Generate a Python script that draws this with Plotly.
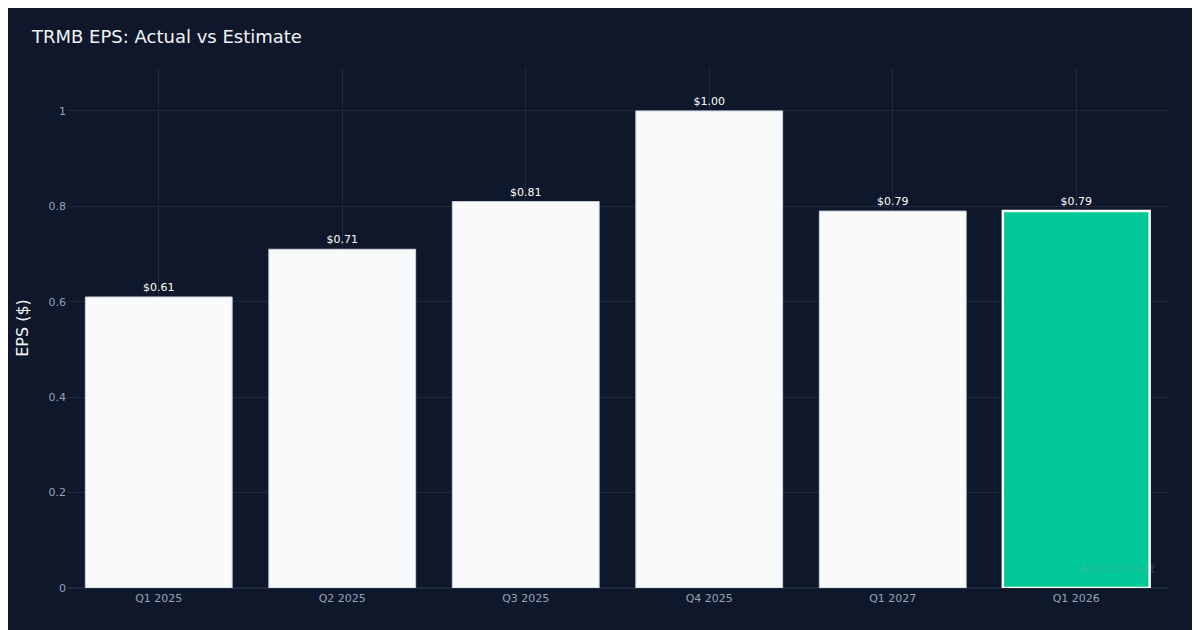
import plotly.graph_objects as go

quarters = ["Q1 2025", "Q2 2025", "Q3 2025", "Q4 2025", "Q1 2027", "Q1 2026"]
eps = [0.61, 0.71, 0.81, 1.00, 0.79, 0.79]
labels = [f"${v:.2f}" for v in eps]

colors = ["#f8fafc"] * 5 + ["#00c896"]
line_colors = ["#cbd5e1"] * 5 + ["#ffffff"]
line_widths = [1] * 5 + [2.5]

fig = go.Figure(go.Bar(
    x=quarters,
    y=eps,
    text=labels,
    textposition="outside",
    textfont=dict(color="#ffffff", size=11),
    cliponaxis=False,
    marker=dict(color=colors, line=dict(color=line_colors, width=line_widths)),
    width=0.8,
))

fig.add_annotation(
    text="AlphaStreet", xref="paper", yref="paper", x=0.99, y=0.02,
    xanchor="right", yanchor="bottom", showarrow=False,
    font=dict(size=13, color="rgba(148,163,184,0.25)"),
)

fig.update_layout(
    width=1200, height=630,
    title=dict(text="TRMB EPS: Actual vs Estimate", x=0.02, y=0.965,
               font=dict(size=18, color="#f1f5f9")),
    paper_bgcolor="#0f172a",
    plot_bgcolor="#0f172a",
    font=dict(family="DejaVu Sans", color="#94a3b8", size=11),
    margin=dict(l=59, r=40, t=60, b=50),
    showlegend=False,
    xaxis=dict(gridcolor="#1e293b", showgrid=True, linecolor="#1e293b",
               tickfont=dict(size=11, color="#94a3b8")),
    yaxis=dict(title=dict(text="EPS ($)", font=dict(size=16, color="#f1f5f9")),
               range=[0, 1.09], dtick=0.2, gridcolor="#1e293b",
               zeroline=True, zerolinecolor="#1e293b",
               tickfont=dict(size=11, color="#94a3b8")),
)

fig.write_html("out.html")
